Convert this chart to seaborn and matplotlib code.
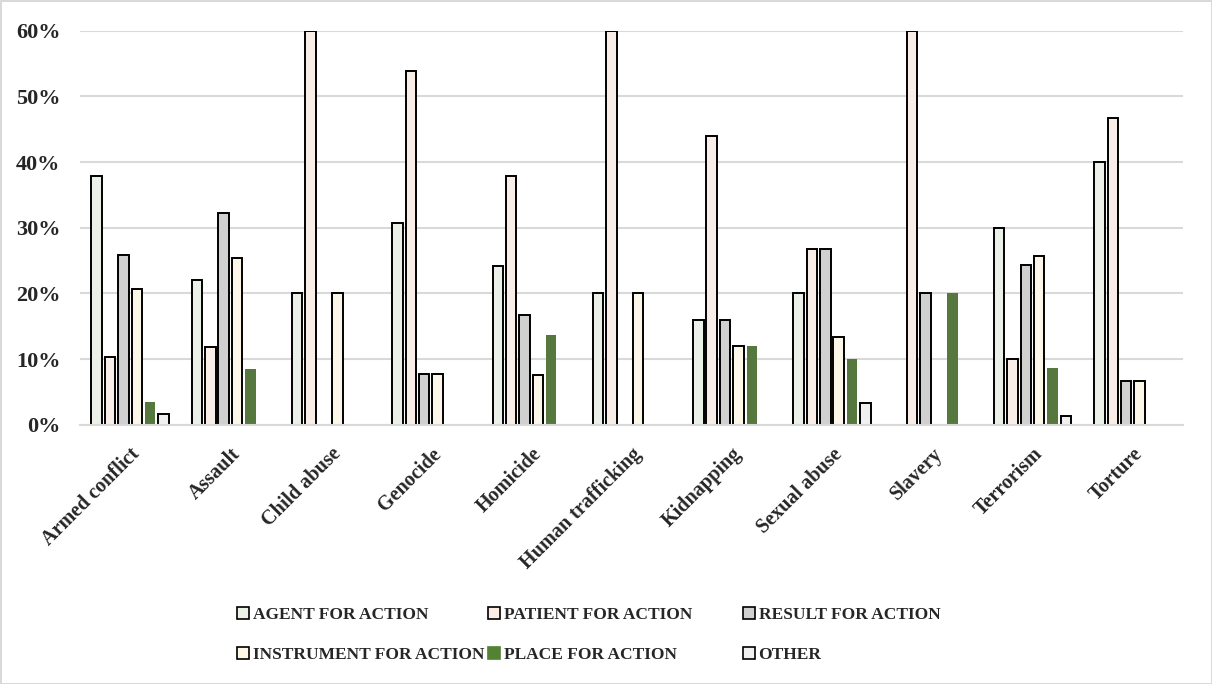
import pandas as pd
import matplotlib.pyplot as plt
import seaborn as sns
from matplotlib.patches import Patch
from matplotlib.ticker import PercentFormatter

categories = ['Armed conflict', 'Assault', 'Child abuse', 'Genocide', 'Homicide',
              'Human trafficking', 'Kidnapping', 'Sexual abuse', 'Slavery',
              'Terrorism', 'Torture']
roles = ['AGENT FOR ACTION', 'PATIENT FOR ACTION', 'RESULT FOR ACTION',
         'INSTRUMENT FOR ACTION', 'PLACE FOR ACTION', 'OTHER']

# percentages per category, one list per role
agent = [37.9, 22.0, 20.0, 30.8, 24.2, 20.0, 16.0, 20.0, 0.0, 30.0, 40.0]
patient = [10.3, 11.9, 60.0, 53.8, 37.9, 60.0, 44.0, 26.7, 60.0, 10.0, 46.7]
result = [25.8, 32.2, 0.0, 7.7, 16.7, 0.0, 16.0, 26.7, 20.0, 24.3, 6.7]
instrument = [20.6, 25.4, 20.0, 7.7, 7.6, 20.0, 12.0, 13.3, 0.0, 25.7, 6.7]
place = [3.4, 8.5, 0.0, 0.0, 13.6, 0.0, 12.0, 10.0, 20.0, 8.6, 0.0]
other = [1.7, 0.0, 0.0, 0.0, 0.0, 0.0, 0.0, 3.3, 0.0, 1.4, 0.0]

colors = ['#EBF3E6', '#FBEEE4', '#D0D0D0', '#FFF8E5', '#548235', '#F0F0F0']
edges = ['black', 'black', 'black', 'black', 'none', 'black']

rows = []
for role, vals in zip(roles, [agent, patient, result, instrument, place, other]):
    for cat, v in zip(categories, vals):
        rows.append({'category': cat, 'role': role, 'value': v})
df = pd.DataFrame(rows)
df = df[df['value'] > 0]

sns.set_style('white')
plt.rcParams['font.family'] = ['Liberation Serif', 'DejaVu Serif']
plt.rcParams['font.weight'] = 'bold'

fig = plt.figure(figsize=(12.12, 6.84), dpi=100, edgecolor='#D9D9D9', linewidth=2)
ax = fig.add_axes([0.066, 0.379, 0.91, 0.576])

sns.barplot(data=df, x='category', y='value', hue='role', order=categories,
            hue_order=roles, palette=dict(zip(roles, colors)), width=0.8, gap=0.22,
            linewidth=1.4, ax=ax)

for cont, ec in zip(ax.containers, edges):
    for bar in cont:
        bar.set_edgecolor(ec)

ax.set_ylim(0, 60)
ax.set_yticks(range(0, 61, 10))
ax.yaxis.set_major_formatter(PercentFormatter(100, decimals=0))
ax.grid(axis='y', color='#D9D9D9', linewidth=1.5)
ax.set_axisbelow(True)
for s in ['top', 'right', 'left']:
    ax.spines[s].set_visible(False)
ax.spines['bottom'].set_color('#D9D9D9')
ax.spines['bottom'].set_linewidth(1.5)
ax.set_xlabel('')
ax.set_ylabel('')
ax.tick_params(axis='y', labelsize=16, length=0, pad=14)
ax.tick_params(axis='x', labelsize=14.5, length=0, pad=14)
plt.setp(ax.get_xticklabels(), rotation=45, ha='right', rotation_mode='anchor',
         fontweight='bold')
plt.setp(ax.get_yticklabels(), fontweight='bold')

ax.legend_.remove()
handles = [Patch(facecolor=c, edgecolor=('black' if e == 'black' else c), linewidth=1.2, label=r)
           for r, c, e in zip(roles, colors, edges)]
# three legend columns, placed like the original (row-wise order)
col_x = [237, 488, 743]
for j, x in enumerate(col_x):
    idx = [j, j + 3]
    fig.legend([handles[i] for i in idx], [roles[i] for i in idx],
               loc='center left', bbox_to_anchor=(x / 1212, 1 - 635 / 684),
               frameon=False, borderpad=0, borderaxespad=0,
               prop={'size': 12.5, 'weight': 'bold'}, handlelength=0.7, handleheight=0.7,
               handletextpad=0.2, labelspacing=1.35)

fig.savefig('out.png', dpi=100)
